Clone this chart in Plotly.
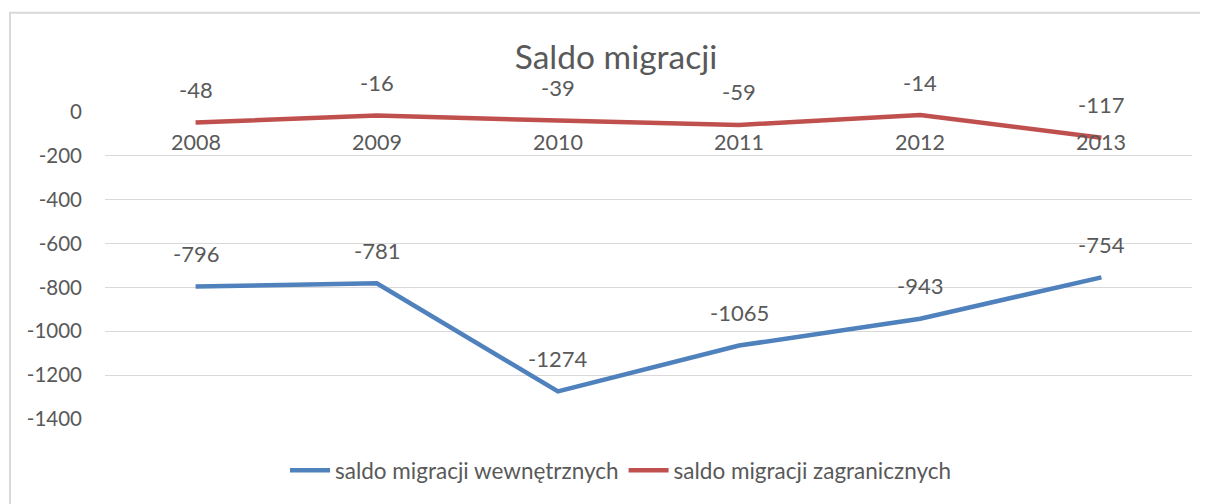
import plotly.graph_objects as go

years = ["2008", "2009", "2010", "2011", "2012", "2013"]
wewn = [-796, -781, -1274, -1065, -943, -754]
zagr = [-48, -16, -39, -59, -14, -117]
series_names = ["saldo migracji wewnętrznych", "saldo migracji zagranicznych"]
y_ticks = [0, -200, -400, -600, -800, -1000, -1200, -1400]

BLUE = "#4F81BD"
RED = "#C0504D"
TXT = "#595959"
FONT = "Lato"

# page has an 8px body margin, so work in figure coords = screen - 8
OFF = 8
W, H = 1200, 496
L, R, T, B = 105 - OFF, 16, 112 - OFF, 83
pw, ph = W - L - R, H - T - B

def px_to_paper_x(px):
    return (px - OFF - L) / pw

def px_to_paper_y(py):
    return (H - B - (py - OFF)) / ph

xi = list(range(len(years)))

fig = go.Figure()
fig.add_trace(go.Scatter(x=xi, y=wewn, mode="lines", name=series_names[0],
                         line=dict(color=BLUE, width=4.5), cliponaxis=False))
fig.add_trace(go.Scatter(x=xi, y=zagr, mode="lines", name=series_names[1],
                         line=dict(color=RED, width=4.5), cliponaxis=False))

# data labels
for vals in (wewn, zagr):
    for i, v in zip(xi, vals):
        fig.add_annotation(x=i, y=v, text=str(v), showarrow=False, yshift=33,
                           font=dict(family=FONT, size=22, color=TXT))

# category labels below the zero line
for i, lab in zip(xi, years):
    fig.add_annotation(x=i, y=0, text=lab, showarrow=False, yanchor="top", yshift=-15,
                       font=dict(family=FONT, size=21.5, color=TXT))

# chart frame
fig.add_shape(type="rect", xref="paper", yref="paper",
              x0=px_to_paper_x(10), x1=px_to_paper_x(1230),
              y0=px_to_paper_y(530), y1=px_to_paper_y(12),
              line=dict(color="#D9D9D9", width=2), layer="below")

fig.update_layout(
    width=W, height=H,
    margin=dict(l=L, r=R, t=T, b=B),
    paper_bgcolor="white", plot_bgcolor="white",
    title=dict(text="Saldo migracji", x=(616 - OFF) / W, xref="container",
               y=(H - (57 - OFF)) / H, yref="container", xanchor="center", yanchor="middle",
               font=dict(family=FONT, size=33.5, color=TXT)),
    font=dict(family=FONT, color=TXT),
    xaxis=dict(range=[-0.5, 5.5], showticklabels=False, showgrid=False,
               zeroline=False, showline=False),
    yaxis=dict(range=[-1400, 0], tickvals=y_ticks, ticktext=[str(v) for v in y_ticks],
               showgrid=True, gridcolor="#D9D9D9", gridwidth=1, zeroline=False,
               showline=False, ticks="", ticklabelstandoff=22,
               tickfont=dict(family=FONT, size=20.5, color=TXT)),
    legend=dict(orientation="h", x=px_to_paper_x(621), xref="paper", xanchor="center",
                y=px_to_paper_y(473), yanchor="middle",
                font=dict(family=FONT, size=22.5, color=TXT), itemwidth=40,
                traceorder="normal"),
    showlegend=True,
)

fig.write_html("out.html")
